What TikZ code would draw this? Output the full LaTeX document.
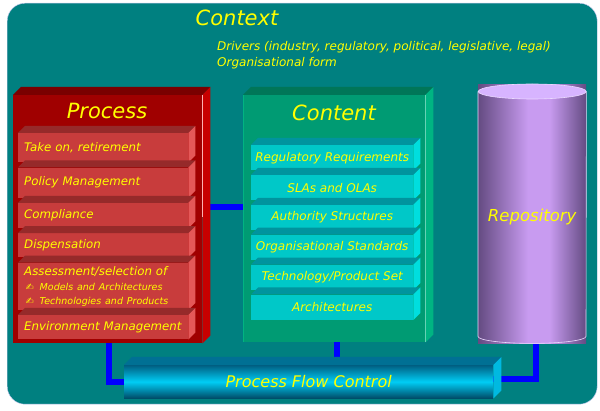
\documentclass[tikz,border=0pt]{standalone}
\usepackage{fontspec}
\setmainfont{DejaVu Sans}
\usetikzlibrary{positioning,calc}

\definecolor{ctxteal}{RGB}{0,128,128}
\definecolor{ctxedge}{RGB}{200,200,240}
\definecolor{txtyellow}{RGB}{255,255,0}
\definecolor{procfront}{RGB}{160,0,0}
\definecolor{proctop}{RGB}{122,0,0}
\definecolor{procside}{RGB}{200,0,0}
\definecolor{pitemfront}{RGB}{200,60,60}
\definecolor{pitemtop}{RGB}{150,42,42}
\definecolor{pitemside}{RGB}{228,88,88}
\definecolor{cntfront}{RGB}{0,155,115}
\definecolor{cnttop}{RGB}{0,118,88}
\definecolor{cntside}{RGB}{0,180,130}
\definecolor{citemfront}{RGB}{0,200,200}
\definecolor{citemtop}{RGB}{0,148,158}
\definecolor{citemside}{RGB}{0,222,222}
\definecolor{repodark}{RGB}{100,75,130}
\definecolor{repolight}{RGB}{200,155,240}
\definecolor{repotop}{RGB}{215,180,255}
\definecolor{pfcdark}{RGB}{0,95,130}
\definecolor{pfclight}{RGB}{0,205,245}
\definecolor{pfctop}{RGB}{0,112,148}
\definecolor{pfcside}{RGB}{0,185,225}

\pgfdeclarehorizontalshading{reposhade}{100bp}{color(0bp)=(repodark); color(25bp)=(repodark); color(48bp)=(repolight); color(58bp)=(repolight); color(75bp)=(repodark); color(100bp)=(repodark)}

\pgfdeclarelayer{back}
\pgfdeclarelayer{links}
\pgfsetlayers{back,links,main}

% top and side faces of a box
\newcommand\extrude[4]{%
  \fill[#3] (#1.north west) -- ++(#2,-#2) -- ([xshift=#2pt,yshift=#2pt]#1.north east) -- (#1.north east) -- cycle;
  \fill[#4] (#1.north east) -- ++(#2,-#2) -- ([xshift=#2pt,yshift=#2pt]#1.south east) -- (#1.south east) -- cycle;
}
\newcommand\pfbullet[1]{{\fontsize{9.5}{12}\selectfont\,✍\hspace{6pt}#1}}

\begin{document}
\begin{tikzpicture}[x=1pt,y=-1pt,font=\itshape,
    ctx/.style={draw=ctxedge,fill=ctxteal,rounded corners=18pt,anchor=north west,inner sep=0pt,minimum width=590pt,minimum height=401pt},
    label/.style={text=txtyellow},
    title/.style={text=txtyellow,font=\itshape\fontsize{21}{25}\selectfont},
    slab/.style={anchor=north west,inner sep=0pt},
    pitem/.style={slab,fill=pitemfront,text=txtyellow,text width=158pt,inner xsep=6pt,align=left,minimum height=#1,font=\itshape\fontsize{11.8}{14}\selectfont},
    citem/.style={slab,fill=citemfront,text=txtyellow,minimum width=162pt,minimum height=25pt,font=\itshape\fontsize{12}{14}\selectfont},
    link/.style={line width=6pt,draw=blue}]
  \useasboundingbox (0,0) rectangle (600,411);
  \begin{pgfonlayer}{back}
    \fill[white] (0,0) rectangle (600,411);
    \node[ctx] (ctx) at (7,3) {};
  \end{pgfonlayer}
  \node[title] (ctxtitle) at (237,18) {Context};
  \node[label,anchor=north west,align=left,inner sep=0pt,font=\itshape\fontsize{12}{16}\selectfont] (drivers) at (217,41)
    {Drivers (industry, regulatory, political, legislative, legal)\\Organisational form};

  % process
  \node[slab,fill=procfront,minimum width=189pt,minimum height=248pt] (proc) at (13,95) {};
  \extrude{proc}{8}{proctop}{procside}
  \draw[red!30!white,line width=0.7pt] (proc.north east) -- ([yshift=-122pt]proc.north east);
  \node[title] (proctitle) at (107,111) {Process};
  \node[pitem=29pt] (p1) at (18,133) {Take on, retirement};
  \node[pitem=30pt] (p2) [below=5pt of p1] {Policy Management};
  \node[pitem=25pt] (p3) [below=5pt of p2] {Compliance};
  \node[pitem=24pt] (p4) [below=5pt of p3] {Dispensation};
  \node[pitem=47pt] (p5) [below=5pt of p4] {Assessment/selection of\\[1pt]\pfbullet{Models and Architectures}\\\pfbullet{Technologies and Products}};
  \node[pitem=24pt] (p6) [below=5pt of p5] {Environment Management};
  \foreach \n in {p1,p2,p3,p4,p5,p6} {\extrude{\n}{7}{pitemtop}{pitemside}}

  % content
  \node[slab,fill=cntfront,minimum width=182pt,minimum height=247pt] (cnt) at (243,95) {};
  \extrude{cnt}{8}{cnttop}{cntside}
  \draw[cntside!60!white,line width=0.7pt] (cnt.north east) -- (cnt.south east);
  \draw[cntside,line width=0.7pt] (cnt.north west) -- (cnt.south west);
  \node[title] (cnttitle) at (334,113) {Content};
  \node[citem] (c1) at (251,145) {Regulatory Requirements};
  \node[citem] (c2) [below=4.5pt of c1] {SLAs and OLAs};
  \node[citem] (c3) [below=4.5pt of c2] {Authority Structures};
  \node[citem] (c4) [below=4.5pt of c3] {Organisational Standards};
  \node[citem] (c5) [below=4.5pt of c4] {Technology/Product Set};
  \node[citem] (c6) [below=4.5pt of c5] {Architectures};
  \foreach \n in {c1,c2,c3,c4,c5,c6} {\extrude{\n}{7}{citemtop}{citemside}}

  % repository
  \node[slab,shading=reposhade,minimum width=108pt,minimum height=259pt] (repo) at (478,84) {};
  \draw[repotop!50!white,line width=0.6pt] ([yshift=-7.5pt]repo.north west) -- ([yshift=7pt]repo.south west)
    arc[start angle=180,end angle=360,x radius=54pt,y radius=7pt] -- ([yshift=-7.5pt]repo.north east);
  \filldraw[fill=repotop,draw=repotop!50!white,line width=0.6pt] ([yshift=-7.5pt]repo.north) ellipse [x radius=54pt,y radius=7.5pt];
  \node[label,font=\itshape\fontsize{16.5}{20}\selectfont] (repolabel) at ([yshift=-3.5pt]repo.center) {Repository};

  % process flow control
  \node[slab,top color=pfcdark,bottom color=pfcdark!80!black,middle color=pfclight,minimum width=369pt,minimum height=33pt,
    text=txtyellow,font=\itshape\fontsize{16}{20}\selectfont] (pfc) at (124,365) {Process Flow Control};
  \extrude{pfc}{8}{pfctop}{pfcside}

  \begin{pgfonlayer}{links}
    \draw[link] ([yshift=12pt]proc.east) -- ([yshift=12pt]proc.east -| cnt.west);
    \draw[link] ([xshift=96pt]proc.south west) |- (pfc.west);
    \draw[link] ([xshift=3pt]cnt.south) -- ([xshift=3pt]cnt.south |- pfc.north);
    \draw[link] ([xshift=4pt]repo.south) |- ([yshift=3pt]pfc.east);
  \end{pgfonlayer}
\end{tikzpicture}
\end{document}
